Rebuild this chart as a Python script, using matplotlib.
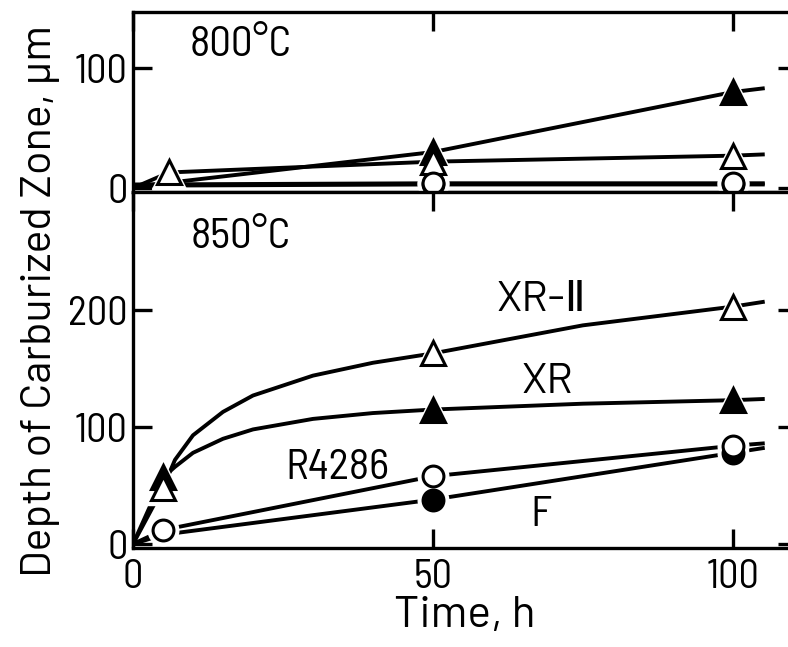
import matplotlib
matplotlib.use('Agg')
import matplotlib.pyplot as plt

plt.rcParams['font.family'] = ['Barlow Semi Condensed', 'Barlow Condensed', 'DejaVu Sans']
plt.rcParams['font.size'] = 29
WIDE = ['Barlow', 'Barlow Semi Condensed', 'DejaVu Sans']

# 800 C panel
t800_xr = [0, 50, 100, 105]
d800_xr = [1, 30, 80, 83]
t800_xr2 = [0, 6, 50, 100, 105]
d800_xr2 = [0, 13, 22, 27, 28]
t800_r = [0, 50, 100, 105]
d800_r = [3, 4, 4, 4]
t800_f = [0, 50, 100, 105]
d800_f = [2, 3, 3, 3]

curve_xr2_t = [0, 5, 7, 10, 15, 20, 30, 40, 50, 75, 100, 105]
curve_xr2_d = [0, 48, 72, 93, 113, 127, 144, 155, 163, 187, 203, 207]
curve_xr_t = [0, 5, 7, 10, 15, 20, 30, 40, 50, 75, 100, 105]
curve_xr_d = [0, 57, 66, 78, 90, 98, 107, 112, 115, 120, 123, 124]
curve_r_t = [0, 5, 50, 100, 105]
curve_r_d = [0, 12, 58, 84, 86]
curve_f_t = [0, 5, 50, 100, 105]
curve_f_d = [0, 8, 38, 78, 82]

pts_t = [5, 50, 100]
pts_xr2 = [48, 163, 203]
pts_xr = [57, 115, 123]
pts_r = [12, 58, 84]
pts_f_t = [50, 100]
pts_f = [38, 78]

fig = plt.figure(figsize=(7.88, 6.47), dpi=100)
ax1 = fig.add_axes([0.1688, 0.7032, 0.8426, 0.2783])
ax2 = fig.add_axes([0.1688, 0.153, 0.8426, 0.5502])

LW = 2.8
SP = 2.4


def marks(ax, x, y, marker, filled, ms):
    # white halo gives the small gaps between line and symbol
    ax.plot(x, y, linestyle='none', marker=marker, ms=ms + 7, mfc='white',
            mec='white', zorder=4, clip_on=False)
    ax.plot(x, y, linestyle='none', marker=marker, ms=ms,
            mfc='black' if filled else 'white', mec='black', mew=2.2,
            zorder=5, clip_on=False)


# top panel
ax1.plot(t800_xr, d800_xr, color='black', lw=LW)
ax1.plot(t800_xr2, d800_xr2, color='black', lw=LW)
ax1.plot(t800_f, d800_f, color='black', lw=LW)
ax1.plot(t800_r, d800_r, color='black', lw=LW)
marks(ax1, t800_xr[1:3], d800_xr[1:3], '^', True, 17)
marks(ax1, t800_xr2[1:4], d800_xr2[1:4], '^', False, 17)
marks(ax1, t800_f[1:3], d800_f[1:3], 'o', True, 15)
marks(ax1, t800_r[1:3], d800_r[1:3], 'o', False, 15)
ax1.text(18, 119, '800°C', ha='center', va='center', fontsize=31)

# bottom panel
ax2.plot(curve_xr2_t, curve_xr2_d, color='black', lw=LW)
ax2.plot(curve_xr_t, curve_xr_d, color='black', lw=LW)
ax2.plot(curve_r_t, curve_r_d, color='black', lw=LW)
ax2.plot(curve_f_t, curve_f_d, color='black', lw=LW)
marks(ax2, pts_t, pts_xr, '^', True, 17)
marks(ax2, pts_t, pts_xr2, '^', False, 17)
marks(ax2, pts_f_t, pts_f, 'o', True, 15)
marks(ax2, pts_t, pts_r, 'o', False, 15)
ax2.text(18, 262, '850°C', ha='center', va='center', fontsize=31)
ax2.text(68, 208, 'XR-Ⅱ', ha='center', va='center', fontsize=31, family=WIDE)
ax2.text(69, 138, 'XR', ha='center', va='center', fontsize=31, family=WIDE)
ax2.text(34, 65, 'R4286', ha='center', va='center', fontsize=31)
ax2.text(68, 24, 'F', ha='center', va='center', fontsize=31)

for ax in (ax1, ax2):
    ax.set_xlim(0, 110.7)
    for s in ax.spines.values():
        s.set_linewidth(SP)
    ax.tick_params(direction='in', length=14, width=SP, top=True, right=True,
                   labelsize=29, pad=4)
    ax.tick_params(axis='x', pad=8)
    ax.set_xticks([0, 50, 100])

ax1.set_ylim(-3.3, 146.7)
ax1.set_yticks([0, 100])
ax1.tick_params(bottom=False, labelbottom=False)
ax2.set_ylim(-3.4, 301)
ax2.set_yticks([0, 100, 200])
ax2.set_xlabel('Time, h', labelpad=0, fontsize=32, family=WIDE)

fig.text(0.052, 0.535, 'Depth of Carburized Zone, μm', rotation=90,
         ha='center', va='center', fontsize=31, family=WIDE)

fig.savefig('out.png', dpi=100)
